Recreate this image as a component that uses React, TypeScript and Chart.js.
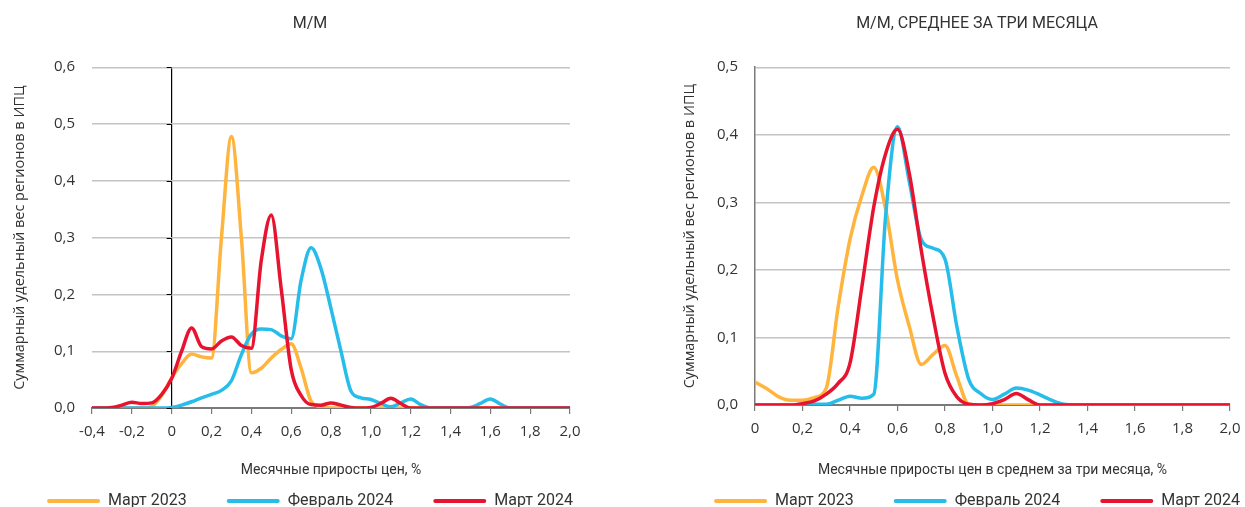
import React, { useEffect, useRef } from "react";
import { Chart, registerables } from "chart.js";

Chart.register(...registerables);

// ---------- text ----------
const seriesNames = ["Март 2023", "Февраль 2024", "Март 2024"];
const seriesColors = ["#FFB43E", "#27BDEB", "#E8132F"];
const leftTitle = "М/М";
const rightTitle = "М/М, СРЕДНЕЕ ЗА ТРИ МЕСЯЦА";
const yAxisTitle = "Суммарный удельный вес регионов в ИПЦ";
const leftXTitle = "Месячные приросты цен, %";
const rightXTitle = "Месячные приросты цен в среднем за три месяца, %";

// ---------- tick labels ----------
const leftXTicks = ["-0,4", "-0,2", "0", "0,2", "0,4", "0,6", "0,8", "1,0", "1,2", "1,4", "1,6", "1,8", "2,0"];
const leftYTicks = ["0,0", "0,1", "0,2", "0,3", "0,4", "0,5", "0,6"];
const rightXTicks = ["0", "0,2", "0,4", "0,6", "0,8", "1,0", "1,2", "1,4", "1,6", "1,8", "2,0"];
const rightYTicks = ["0,0", "0,1", "0,2", "0,3", "0,4", "0,5"];

// ---------- left chart data (м/м) ----------
const leftX = [
  -0.4, -0.35, -0.3, -0.25, -0.2, -0.15, -0.1, -0.05, 0, 0.05, 0.1, 0.15, 0.2, 0.25, 0.3, 0.35, 0.4,
  0.45, 0.5, 0.55, 0.6, 0.65, 0.7, 0.75, 0.8, 0.85, 0.9, 0.95, 1.0, 1.05, 1.1, 1.15, 1.2, 1.25, 1.3,
  1.35, 1.4, 1.45, 1.5, 1.55, 1.6, 1.65, 1.7, 1.75, 1.8, 1.85, 1.9, 1.95, 2.0,
];
const leftMar2023 = [
  0, 0, 0, 0, 0, 0, 0.003, 0.022, 0.053, 0.078, 0.095, 0.09, 0.088, 0.3, 0.478, 0.3, 0.062,
  0.07, 0.088, 0.103, 0.113, 0.07, 0.012, 0.002, 0, 0, 0, 0, 0, 0, 0, 0, 0, 0, 0,
  0, 0, 0, 0, 0, 0, 0, 0, 0, 0, 0, 0, 0, 0,
];
const leftFeb2024 = [
  0, 0, 0, 0, 0, 0, 0, 0, 0.001, 0.005, 0.011, 0.018, 0.024, 0.031, 0.048, 0.094, 0.13,
  0.139, 0.138, 0.127, 0.122, 0.225, 0.282, 0.245, 0.175, 0.1, 0.03, 0.018, 0.015, 0.008, 0.002, 0.009, 0.016, 0.006, 0,
  0, 0, 0, 0.001, 0.008, 0.016, 0.007, 0, 0, 0, 0, 0, 0, 0,
];
const leftMar2024 = [
  0, 0, 0.001, 0.005, 0.01, 0.008, 0.009, 0.024, 0.052, 0.1, 0.141, 0.108, 0.104, 0.118, 0.125, 0.11, 0.105,
  0.26, 0.34, 0.21, 0.068, 0.022, 0.006, 0.005, 0.009, 0.005, 0.001, 0, 0.001, 0.008, 0.017, 0.008, 0, 0, 0,
  0, 0, 0, 0, 0, 0, 0, 0, 0, 0, 0, 0, 0, 0,
];

// ---------- right chart data (м/м, среднее за три месяца) ----------
const rightX = [
  0, 0.05, 0.1, 0.15, 0.2, 0.25, 0.3, 0.35, 0.4, 0.45, 0.5, 0.55, 0.6, 0.65, 0.7, 0.75, 0.8, 0.85, 0.9,
  0.95, 1.0, 1.05, 1.1, 1.15, 1.2, 1.25, 1.3, 1.35, 1.4, 1.45, 1.5, 1.55, 1.6, 1.65, 1.7, 1.75, 1.8, 1.85,
  1.9, 1.95, 2.0,
];
const rightMar2023 = [
  0.034, 0.024, 0.012, 0.007, 0.007, 0.011, 0.025, 0.145, 0.245, 0.31, 0.352, 0.29, 0.185, 0.116, 0.06, 0.075, 0.088, 0.042, 0.001,
  0, 0, 0, 0, 0, 0, 0, 0, 0, 0, 0, 0, 0, 0, 0, 0, 0, 0, 0,
  0, 0, 0,
];
const rightFeb2024 = [
  0, 0, 0, 0, 0.001, 0.001, 0.001, 0.007, 0.013, 0.01, 0.016, 0.28, 0.412, 0.33, 0.245, 0.232, 0.216, 0.116, 0.038,
  0.017, 0.008, 0.016, 0.025, 0.022, 0.015, 0.007, 0.001, 0, 0, 0, 0, 0, 0, 0, 0, 0, 0, 0,
  0, 0, 0,
];
const rightMar2024 = [
  0, 0, 0, 0, 0.002, 0.006, 0.016, 0.032, 0.062, 0.175, 0.293, 0.372, 0.408, 0.342, 0.229, 0.13, 0.047, 0.012, 0.001,
  0, 0.002, 0.008, 0.017, 0.008, 0, 0, 0, 0, 0, 0, 0, 0, 0, 0, 0, 0, 0, 0,
  0, 0, 0,
];

const TICK_FONT = { family: "'Open Sans', sans-serif", size: 15 };
const Y_TITLE_FONT = { family: "'Open Sans', sans-serif", size: 14.5 };
const HEAD_FONT = { family: "Roboto, sans-serif", size: 16 };
const X_TITLE_FONT = { family: "Roboto, sans-serif", size: 14 };
const TEXT_COLOR = "#333333";

function buildDatasets(xs: number[], series: number[][]) {
  return series.map((vals, i) => ({
    label: seriesNames[i],
    data: xs.map((x, j) => ({ x, y: vals[j] })),
    borderColor: seriesColors[i],
    backgroundColor: seriesColors[i],
    borderWidth: 3.5,
    pointRadius: 0,
    cubicInterpolationMode: "monotone" as const,
    fill: false,
    order: 3 - i,
  }));
}

const zeroAxisTicks = {
  id: "zeroAxisTicks",
  beforeDatasetsDraw(chart: any) {
    const { ctx, scales } = chart;
    const x0 = scales.x.getPixelForValue(0);
    ctx.save();
    ctx.strokeStyle = "#000";
    ctx.lineWidth = 1;
    scales.y.ticks.forEach((t: any) => {
      const py = Math.round(scales.y.getPixelForValue(t.value)) + 0.5;
      ctx.beginPath();
      ctx.moveTo(x0 - 5, py);
      ctx.lineTo(x0, py);
      ctx.stroke();
    });
    ctx.restore();
  },
};

function makeConfig(opts: {
  title: string;
  xTitle: string;
  xs: number[];
  series: number[][];
  xMin: number;
  xMax: number;
  yMax: number;
  xTicks: string[];
  yTicks: string[];
  yWidth: number;
  yTitlePad: number;
  rightPad: number;
  xHeight: number;
  zeroLine: boolean;
}) {
  return {
    type: "line" as const,
    data: { datasets: buildDatasets(opts.xs, opts.series) },
    plugins: opts.zeroLine ? [zeroAxisTicks] : [],
    options: {
      animation: false as const,
      responsive: false,
      devicePixelRatio: 1,
      layout: { padding: 0 },
      plugins: {
        tooltip: { enabled: false },
        title: {
          display: true,
          text: opts.title,
          color: TEXT_COLOR,
          font: { ...HEAD_FONT, weight: "normal" as const },
          padding: { top: 14, bottom: 34 },
        },
        legend: {
          position: "bottom" as const,
          labels: {
            boxWidth: 53,
            boxHeight: 4,
            useBorderRadius: true,
            borderRadius: 2,
            padding: 40,
            color: TEXT_COLOR,
            font: HEAD_FONT,
            sort: (a: any, b: any) => a.datasetIndex - b.datasetIndex,
            generateLabels: (chart: any) =>
              Chart.defaults.plugins.legend.labels
                .generateLabels(chart)
                .map((l: any) => ({ ...l, lineWidth: 0 })),
          },
        },
      },
      scales: {
        x: {
          type: "linear" as const,
          min: opts.xMin,
          max: opts.xMax,
          afterFit: (s: any) => {
            s.height = opts.xHeight;
          },
          ticks: {
            stepSize: 0.2,
            color: TEXT_COLOR,
            font: TICK_FONT,
            padding: 9,
            maxRotation: 0,
            autoSkip: false,
            callback: (_v: any, i: number) => opts.xTicks[i],
          },
          grid: {
            drawOnChartArea: opts.zeroLine,
            color: (c: any) =>
              c.tick && Math.abs(c.tick.value) < 1e-9 ? "#000000" : "rgba(0,0,0,0)",
            lineWidth: 1.2,
            drawTicks: true,
            tickLength: 6,
            tickColor: "#7a7a7a",
            tickWidth: 1.2,
          },
          border: { display: true, color: "#7a7a7a", width: 2 },
          title: {
            display: true,
            text: opts.xTitle,
            color: TEXT_COLOR,
            font: X_TITLE_FONT,
            padding: { top: 0, bottom: -25.4 },
          },
        },
        y: {
          type: "linear" as const,
          min: 0,
          max: opts.yMax,
          afterFit: (s: any) => {
            s.width = opts.yWidth;
          },
          ticks: {
            stepSize: 0.1,
            color: TEXT_COLOR,
            font: TICK_FONT,
            padding: 17,
            callback: (_v: any, i: number) => opts.yTicks[i],
          },
          grid: {
            color: "#c4c4c4",
            lineWidth: 1.4,
            drawTicks: false,
          },
          border: { display: !opts.zeroLine, color: "#7a7a7a", width: 1.5 },
          title: {
            display: true,
            text: yAxisTitle,
            color: TEXT_COLOR,
            font: Y_TITLE_FONT,
            padding: { top: opts.yTitlePad, bottom: 0 },
          },
        },
        // empty right-hand spacer axis (keeps the plot narrower than the canvas)
        spacer: {
          type: "linear" as const,
          position: "right" as const,
          display: true,
          afterFit: (s: any) => {
            s.width = opts.rightPad;
          },
          ticks: { display: false },
          grid: { display: false, drawTicks: false },
          border: { display: false },
        },
      },
    },
  };
}

function ChartCanvas({ config, left, width, height }: { config: any; left: number; width: number; height: number }) {
  const ref = useRef<HTMLCanvasElement>(null);
  useEffect(() => {
    const chart = new Chart(ref.current as HTMLCanvasElement, config);
    return () => chart.destroy();
  }, [config]);
  return (
    <canvas
      ref={ref}
      width={width}
      height={height}
      style={{ position: "absolute", left, top: 0, width, height, display: "block" }}
    />
  );
}

const leftConfig = makeConfig({
  title: leftTitle,
  xTitle: leftXTitle,
  xs: leftX,
  series: [leftMar2023, leftFeb2024, leftMar2024],
  xMin: -0.4,
  xMax: 2.0,
  yMax: 0.6,
  xTicks: leftXTicks,
  yTicks: leftYTicks,
  yWidth: 92,
  yTitlePad: 11.3,
  rightPad: 50,
  xHeight: 45,
  zeroLine: true,
});

const rightConfig = makeConfig({
  title: rightTitle,
  xTitle: rightXTitle,
  xs: rightX,
  series: [rightMar2023, rightFeb2024, rightMar2024],
  xMin: 0,
  xMax: 2.0,
  yMax: 0.5,
  xTicks: rightXTicks,
  yTicks: rightYTicks,
  yWidth: 135,
  yTitlePad: 61.3,
  rightPad: 104,
  xHeight: 48,
  zeroLine: false,
});

export default function App() {
  return (
    <div
      style={{
        position: "absolute",
        left: 0,
        top: 0,
        width: 1245,
        height: 507,
        overflow: "hidden",
        background: "#ffffff",
      }}
    >
      <ChartCanvas config={leftConfig} left={0} width={620} height={519} />
      <ChartCanvas config={rightConfig} left={620} width={714} height={519} />
    </div>
  );
}
